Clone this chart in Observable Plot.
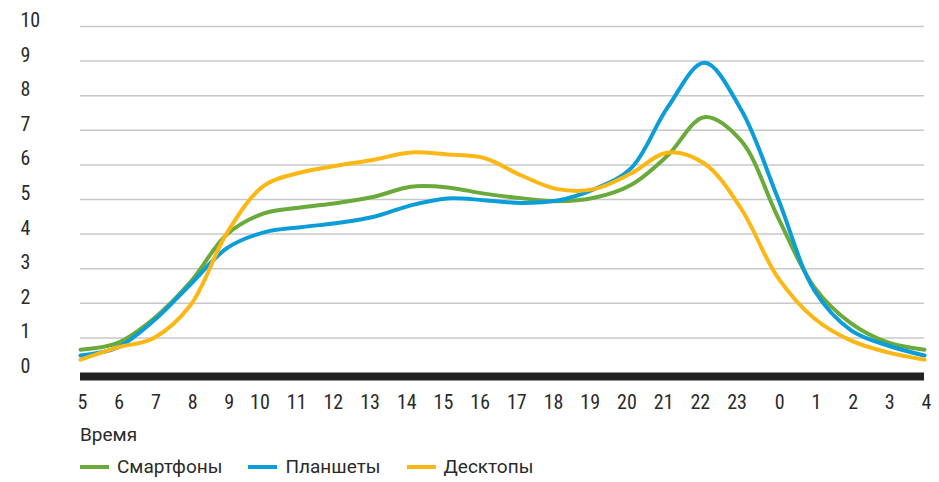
<!DOCTYPE html>
<html>
<head>
<meta charset="utf-8">
<script src="https://cdn.jsdelivr.net/npm/d3@7"></script>
<script src="https://cdn.jsdelivr.net/npm/@observablehq/plot@0.6"></script>
<style>
  html, body { margin: 0; padding: 0; background: #fff; }
  #wrap { position: relative; width: 939px; height: 482px; color: #2a2a2a; }
  #wrap svg { display: block; }
  .cap { position: absolute; left: 80px; top: 424px; font-family: Roboto, sans-serif; font-size: 19px; line-height: 22px; }
  .legend { position: absolute; left: 80px; top: 456px; font-family: Roboto, sans-serif; font-size: 19px; line-height: 22px; display: flex; }
  .item { display: flex; align-items: center; margin-right: 26px; }
  .sw { display: inline-block; width: 29px; height: 4px; margin-right: 8px; }
</style>
</head>
<body>
<div id="wrap"></div>
<script>
const hours = ["5","6","7","8","9","10","11","12","13","14","15","16","17","18","19","20","21","22","23","0","1","2","3","4"];
const seriesNames = ["Смартфоны", "Планшеты", "Десктопы"];
const seriesColors = ["#6aaa3a", "#0a9dd9", "#fdb714"];
const smartphones = [0.66,0.85,1.56,2.62,4.0,4.6,4.77,4.9,5.08,5.37,5.35,5.17,5.04,4.95,5.05,5.42,6.27,7.38,6.7,4.5,2.46,1.42,0.87,0.66];
const tablets     = [0.49,0.72,1.5,2.55,3.6,4.05,4.2,4.32,4.5,4.83,5.03,4.98,4.9,4.97,5.3,5.9,7.66,8.95,7.6,5.05,2.37,1.22,0.78,0.49];
const desktops    = [0.37,0.72,1.0,1.95,4.05,5.4,5.78,5.98,6.15,6.36,6.3,6.2,5.7,5.3,5.3,5.75,6.36,6.04,4.74,2.75,1.56,0.92,0.58,0.37];
const yTicks = [0,1,2,3,4,5,6,7,8,9,10];

const valuesBySeries = [smartphones, tablets, desktops];
const rows = [];
seriesNames.forEach((s, i) => hours.forEach((h, j) => rows.push({series: s, idx: j, value: valuesBySeries[i][j]})));
const idx = hours.map((h, j) => j);
const oneDigit = idx.filter(j => hours[j].length === 1);
const twoDigit = idx.filter(j => hours[j].length === 2);

const axisFont = '"Liberation Sans Narrow", "Roboto Condensed", Roboto, sans-serif';

const chart = Plot.plot({
  width: 939,
  height: 415,
  marginLeft: 80,
  marginRight: 15,
  marginTop: 26,
  marginBottom: 43,
  style: {fontFamily: axisFont, fontSize: "20px", color: "#2a2a2a", background: "#fff"},
  x: {domain: [0, hours.length - 1]},
  y: {domain: [0, 10]},
  color: {domain: seriesNames, range: seriesColors},
  marks: [
    Plot.gridY(yTicks.filter(d => d > 0), {stroke: "#c8c8c8", strokeOpacity: 1, strokeWidth: 1.5}),
    Plot.axisY(yTicks, {tickSize: 0, tickPadding: 0, textAnchor: "start", dx: -60, dy: -6, label: null, fill: "#2a2a2a"}),
    Plot.axisX(oneDigit, {tickSize: 0, tickPadding: 22, dx: 2, label: null, fill: "#2a2a2a", tickFormat: j => hours[j]}),
    Plot.axisX(twoDigit, {tickSize: 0, tickPadding: 22, dx: -4, label: null, fill: "#2a2a2a", tickFormat: j => hours[j]}),
    Plot.ruleY([0], {stroke: "#222", strokeWidth: 8, dy: 4}),
    Plot.line(rows, {x: "idx", y: "value", z: "series", stroke: "series", strokeWidth: 4, curve: "catmull-rom"})
  ]
});

const wrap = document.getElementById("wrap");
wrap.appendChild(chart);
const cap = document.createElement("div");
cap.className = "cap";
cap.textContent = "Время";
wrap.appendChild(cap);
const leg = document.createElement("div");
leg.className = "legend";
seriesNames.forEach((s, i) => {
  const it = document.createElement("div");
  it.className = "item";
  const sw = document.createElement("span");
  sw.className = "sw";
  sw.style.background = seriesColors[i];
  const t = document.createElement("span");
  t.textContent = s;
  it.appendChild(sw); it.appendChild(t);
  leg.appendChild(it);
});
wrap.appendChild(leg);
</script>
</body>
</html>
